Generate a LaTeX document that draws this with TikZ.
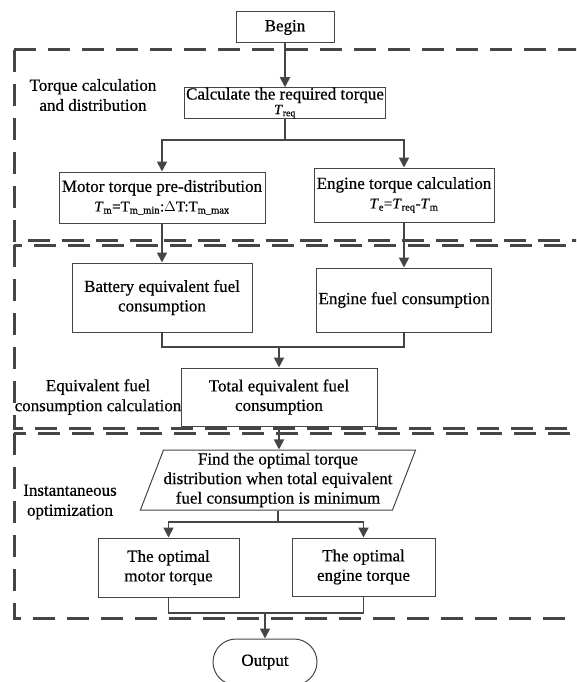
\documentclass[tikz,border=0pt]{standalone}
\usepackage{fontspec}
\setmainfont{Liberation Serif}[FakeBold=0.5]
\usetikzlibrary{arrows.meta,shapes.geometric,shapes.misc}
\definecolor{linegray}{HTML}{454545}
\begin{document}
\begin{tikzpicture}[
                x=1pt, y=-1pt,
                box/.style={
                    draw=linegray,
                    line width=1pt,
                    rectangle,
                    inner sep=0pt,
                    align=center,
                    font=\fontsize{17}{19.5}\selectfont
                },
                databox/.style={
                    box,
                    trapezium,
                    trapezium left angle=67,
                    trapezium right angle=113,
                    trapezium stretches body,
                    minimum height=60pt,
                    minimum width=267pt
                },
                endbox/.style={
                    box,
                    rounded rectangle,
                    minimum width=104pt,
                    minimum height=46pt
                },
                region/.style={
                    draw=linegray,
                    line width=3pt,
                    dash pattern=on 22pt off 12pt
                },
                phase/.style={
                    align=center,
                    font=\fontsize{17}{20}\selectfont
                },
                arrow/.style={
                    -{Triangle[length=10pt,width=10pt]},
                    draw=linegray,
                    line width=1.8pt
                },
                link/.style={
                    draw=linegray,
                    line width=1.8pt
                }
            ]
                \clip (0,0) rectangle (576,682);

                % dashed stages
                \draw[region] (14,50) rectangle (600,240);
                \draw[region] (14,245) rectangle (600,428);
                \draw[region] (14,433) rectangle (600,618);

                \node[phase] (lab1) at (93,95)  {Torque calculation\\and distribution};
                \node[phase] (lab2) at (98,397) {Equivalent fuel\\consumption calculation};
                \node[phase] (lab3) at (70,502) {Instantaneous\\optimization};

                \node[box, minimum width=98pt, minimum height=31pt] (begin) at (285,27.5) {Begin};
                \node[box, minimum width=201pt, minimum height=30pt] (calc) at (285,103)
                    {Calculate the required torque\\[-5pt]{\fontsize{14}{14}\selectfont\textit{T}\textsubscript{req}}};
                \node[box, minimum width=206pt, minimum height=51pt] (motor) at (162,197.5)
                    {Motor torque pre-distribution\\{\fontsize{15}{15}\selectfont\textit{T}\textsubscript{m}=T\textsubscript{m\_min}:$\Delta$T:T\textsubscript{m\_max}}};
                \node[box, minimum width=180pt, minimum height=54pt] (engine) at (404,195)
                    {Engine torque calculation\\{\fontsize{15}{15}\selectfont\textit{T}\textsubscript{e}=\textit{T}\textsubscript{req}-\textit{T}\textsubscript{m}}};
                \node[box, minimum width=180pt, minimum height=69pt] (batt) at (162,297.5)
                    {Battery equivalent fuel\\consumption};
                \node[box, minimum width=175pt, minimum height=64pt] (efuel) at (404,300)
                    {Engine fuel consumption};
                \node[box, minimum width=196pt, minimum height=58pt] (total) at (279,397)
                    {Total equivalent fuel\\consumption};
                \node[databox] (find) at (278,480)
                    {Find the optimal torque\\distribution when total equivalent\\fuel consumption is minimum};
                \node[box, minimum width=141pt, minimum height=59pt] (optm) at (168.5,567.5)
                    {The optimal\\motor torque};
                \node[box, minimum width=143pt, minimum height=58pt] (opte) at (363.5,567)
                    {The optimal\\engine torque};
                \node[endbox] (output) at (265,662) {Output};

                \coordinate (split1) at (285,140);
                \coordinate (join1) at (279,347);
                \coordinate (split2) at (278,522);
                \coordinate (join2) at (265,613);

                \draw[arrow] (begin) -- (calc);
                \draw[link] (calc) -- (split1);
                \draw[arrow] (split1) -| (motor.north);
                \draw[arrow] (split1) -| (engine.north);
                \draw[arrow] (motor) -- (batt);
                \draw[arrow] (engine) -- (efuel);
                \draw[link] (batt.south) |- (join1) -| (efuel.south);
                \draw[arrow] (join1) -- (total);
                \draw[arrow] (total.south) -- (total.south |- find.north);
                \draw[link] (split2 |- find.south) -- (split2);
                \draw[arrow] (split2) -| (optm.north);
                \draw[arrow] (split2) -| (opte.north);
                \draw[link] (optm.south) |- (join2) -| (opte.south);
                \draw[arrow] (join2) -- (output);
\end{tikzpicture}
\end{document}
